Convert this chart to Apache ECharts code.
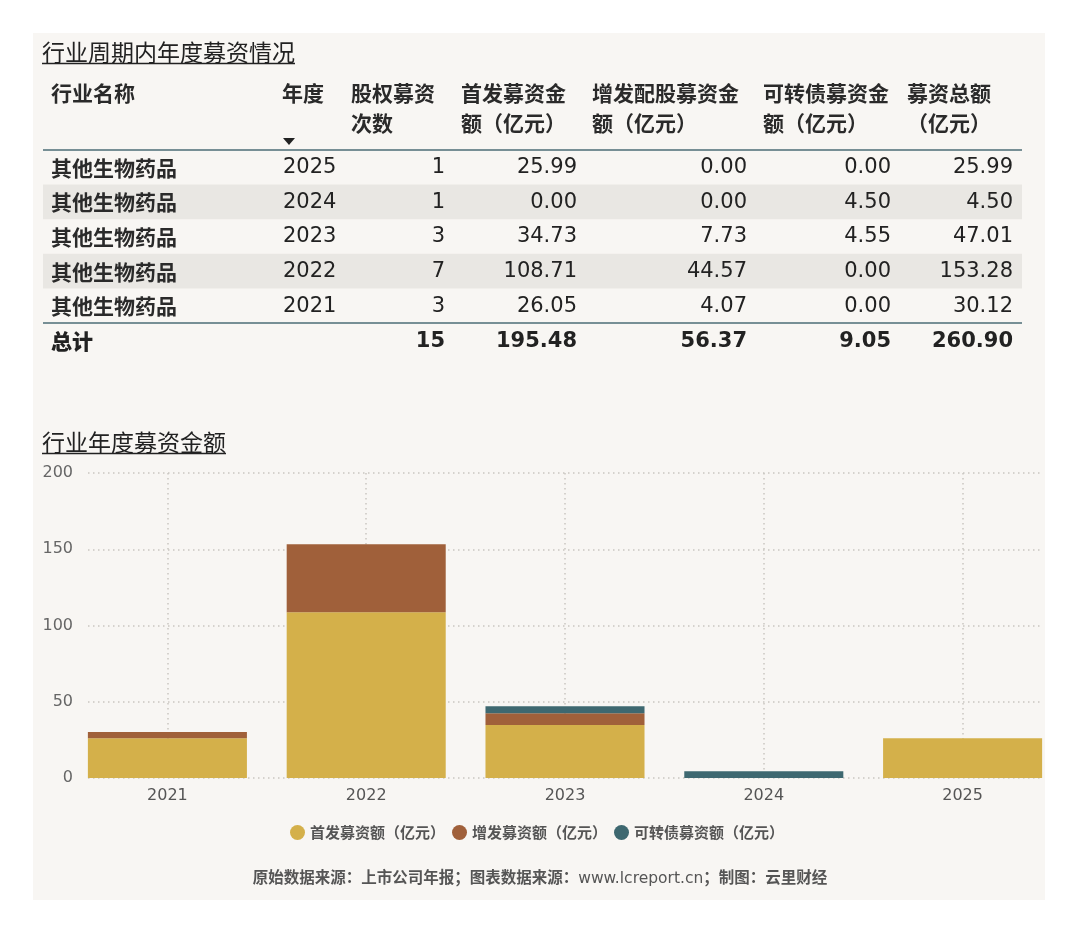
<!DOCTYPE html>
<html>
<head>
<meta charset="utf-8">
<script src="https://cdn.jsdelivr.net/npm/echarts@6/dist/echarts.min.js"></script>
<style>
html, body { margin: 0; padding: 0; background: #fff; }
#wrap { position: relative; width: 1080px; height: 935px; }
#panel { position: absolute; left: 33px; top: 33px; width: 1012px; height: 867px; background: #f8f6f3; }
#main { position: absolute; left: 0; top: 0; width: 1080px; height: 935px; }
</style>
</head>
<body>
<div id="wrap">
  <div id="panel"></div>
  <div id="main"></div>
</div>
<script>
// 表格数据（按年度倒序）
var industry = '其他生物药品';
var tableYears = ['2025', '2024', '2023', '2022', '2021'];
var raiseCount = [1, 1, 3, 7, 3];
var ipoAmount = [25.99, 0.00, 34.73, 108.71, 26.05];
var seoAmount = [0.00, 0.00, 7.73, 44.57, 4.07];
var cbAmount = [0.00, 4.50, 4.55, 0.00, 0.00];

// 图表用正序
var chartYears = tableYears.slice().reverse();
var yTicks = [0, 50, 100, 150, 200];
var legendNames = ['首发募资额（亿元）', '增发募资额（亿元）', '可转债募资额（亿元）'];
var headers = [
  ['行业名称'], ['年度'], ['股权募资', '次数'], ['首发募资金', '额（亿元）'],
  ['增发配股募资金', '额（亿元）'], ['可转债募资金', '额（亿元）'], ['募资总额', '（亿元）']
];

var CJK = '"Noto Sans CJK SC", sans-serif';
var NUM = '"DejaVu Sans", "Noto Sans CJK SC", sans-serif';
var colors = ['#d4b04a', '#a0603a', '#3e6870'];

function sum(arr) {
  var s = 0;
  for (var i = 0; i < arr.length; i++) s += arr[i];
  return s;
}
var rowTotal = tableYears.map(function (y, i) { return ipoAmount[i] + seoAmount[i] + cbAmount[i]; });

// 量一下标题宽度，用来画下划线
var measureCtx = document.createElement('canvas').getContext('2d');
function textWidth(str, font) {
  measureCtx.font = font;
  return measureCtx.measureText(str).width;
}

var graphics = [];
function addText(str, x, y, font, align, fill) {
  graphics.push({
    type: 'text',
    style: {
      text: str, x: x, y: y, font: font,
      textAlign: align || 'left', textVerticalAlign: 'middle',
      fill: fill || '#222'
    }
  });
}
function addLine(x1, y1, x2, y2, color, w) {
  graphics.push({
    type: 'line',
    shape: { x1: x1, y1: y1, x2: x2, y2: y2 },
    style: { stroke: color, lineWidth: w }
  });
}

// 标题
var titleFont = '23px ' + CJK;
var t1 = '行业周期内年度募资情况';
addText(t1, 42, 52, titleFont);
addLine(42, 63.5, 42 + textWidth(t1, titleFont), 63.5, '#222', 1.5);
var t2 = '行业年度募资金额';
addText(t2, 42, 442, titleFont);
addLine(42, 453.5, 42 + textWidth(t2, titleFont), 453.5, '#222', 1.5);

// 表格
var tableLeft = 43, tableRight = 1022;
var headTop = 150, rowH = 34.6;
var headX = [51, 282, 351, 461, 592, 763, 907];
var numRight = [445, 577, 747, 891, 1013];
var cellFont = 'bold 21px ' + CJK;
var numFont = '21px ' + NUM;
var boldNum = 'bold 21px ' + NUM;
var lineColor = '#4d6c76';

// 隔行底色
for (var r = 0; r < tableYears.length; r++) {
  if (r % 2 === 1) {
    graphics.push({
      type: 'rect',
      shape: { x: tableLeft, y: headTop + rowH * r, width: tableRight - tableLeft, height: rowH },
      style: { fill: '#e9e7e3' }
    });
  }
}

headers.forEach(function (lines, c) {
  lines.forEach(function (s, k) {
    addText(s, headX[c], 93 + k * 30, cellFont, 'left', '#2a2a2a');
  });
});
// 年度列的排序箭头
graphics.push({
  type: 'polygon',
  shape: { points: [[283, 138], [295, 138], [289, 145]] },
  style: { fill: '#222' }
});

addLine(tableLeft, headTop, tableRight, headTop, lineColor, 1.5);

tableYears.forEach(function (y, i) {
  var cy = headTop + rowH * (i + 0.5) + 0.5;
  addText(industry, 51, cy, cellFont, 'left', '#2a2a2a');
  addText(y, 283, cy, numFont);
  addText(String(raiseCount[i]), numRight[0], cy, numFont, 'right');
  addText(ipoAmount[i].toFixed(2), numRight[1], cy, numFont, 'right');
  addText(seoAmount[i].toFixed(2), numRight[2], cy, numFont, 'right');
  addText(cbAmount[i].toFixed(2), numRight[3], cy, numFont, 'right');
  addText(rowTotal[i].toFixed(2), numRight[4], cy, numFont, 'right');
});

var sumTop = headTop + rowH * tableYears.length;
addLine(tableLeft, sumTop, tableRight, sumTop, lineColor, 1.5);
var sumY = sumTop + 18.5;
addText('总计', 51, sumY, '900 21px ' + CJK);
addText(String(sum(raiseCount)), numRight[0], sumY, boldNum, 'right');
addText(sum(ipoAmount).toFixed(2), numRight[1], sumY, boldNum, 'right');
addText(sum(seoAmount).toFixed(2), numRight[2], sumY, boldNum, 'right');
addText(sum(cbAmount).toFixed(2), numRight[3], sumY, boldNum, 'right');
addText(sum(rowTotal).toFixed(2), numRight[4], sumY, boldNum, 'right');

// 底部来源
graphics.push({
  type: 'text',
  style: {
    text: '{c|原始数据来源：上市公司年报；图表数据来源：}{u|www.lcreport.cn}{c|；制图：云里财经}',
    x: 540, y: 877, textAlign: 'center', textVerticalAlign: 'middle',
    rich: {
      c: { fontFamily: CJK, fontWeight: 'bold', fontSize: 15.5, fill: '#555', lineHeight: 20 },
      u: { fontFamily: NUM, fontSize: 15.5, fill: '#555', lineHeight: 20, padding: [3, 0, 0, 0] }
    }
  }
});

var dotted = { color: '#c9c6c1', width: 1.5, type: [1.5, 3.5] };

var myChart = echarts.init(document.getElementById('main'));
var option = {
  backgroundColor: 'transparent',
  animation: false,
  textStyle: { fontFamily: NUM },
  graphic: graphics,
  legend: {
    data: legendNames,
    icon: 'circle',
    itemWidth: 15,
    itemHeight: 15,
    itemGap: 7,
    left: 285,
    top: 820,
    textStyle: { fontFamily: CJK, fontSize: 15, fontWeight: 'bold', color: '#555' }
  },
  grid: [
    { left: 88, right: 39, top: 473, height: 305 },
    { left: 68, right: 18, top: 473, height: 305 }
  ],
  xAxis: [
    { gridIndex: 0, type: 'value', show: false, min: 0, max: 1 },
    {
      gridIndex: 1,
      type: 'category',
      data: chartYears,
      axisLine: { show: false },
      axisTick: { show: false },
      axisLabel: { margin: 10, fontSize: 16, color: '#555', fontFamily: NUM },
      splitLine: { show: true, alignWithLabel: true, lineStyle: dotted }
    }
  ],
  yAxis: [
    {
      gridIndex: 0,
      type: 'value',
      min: yTicks[0],
      max: yTicks[yTicks.length - 1],
      interval: yTicks[1] - yTicks[0],
      axisLine: { show: false },
      axisTick: { show: false },
      axisLabel: { margin: 15, fontSize: 16, color: '#666', fontFamily: NUM },
      splitLine: { show: true, lineStyle: dotted }
    },
    {
      gridIndex: 1,
      type: 'value',
      show: false,
      min: yTicks[0],
      max: yTicks[yTicks.length - 1],
      interval: yTicks[1] - yTicks[0]
    }
  ],
  series: [
    { name: legendNames[0], data: ipoAmount.slice().reverse() },
    { name: legendNames[1], data: seoAmount.slice().reverse() },
    { name: legendNames[2], data: cbAmount.slice().reverse() }
  ].map(function (s, i) {
    s.type = 'bar';
    s.stack = 'total';
    s.xAxisIndex = 1;
    s.yAxisIndex = 1;
    s.barWidth = '80%';
    s.itemStyle = { color: colors[i] };
    return s;
  })
};

myChart.setOption(option);
</script>
</body>
</html>
